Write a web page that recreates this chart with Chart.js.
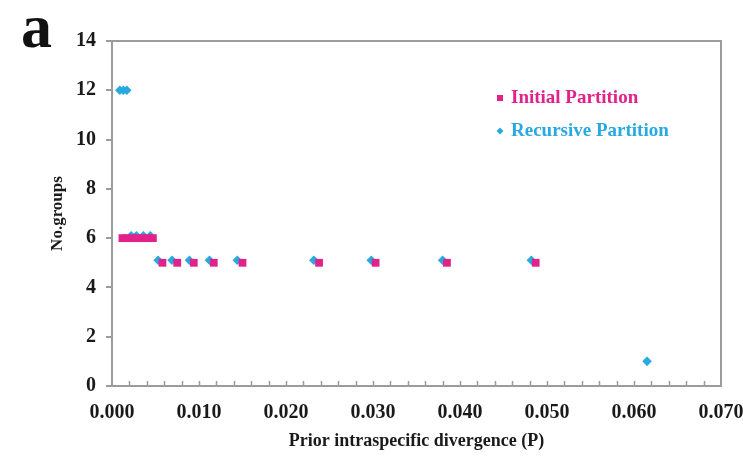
<!DOCTYPE html>
<html>
<head>
<meta charset="utf-8">
<script src="https://cdn.jsdelivr.net/npm/chart.js@4/dist/chart.umd.min.js"></script>
<style>
  html, body { margin: 0; padding: 0; background: #ffffff; }
  #wrap { width: 743px; height: 465px; }
</style>
</head>
<body>
<div id="wrap"><canvas id="c" width="743" height="465"></canvas></div>
<script>
// Number of groups found for each prior intraspecific divergence value
const initialP      = [0.0012, 0.0017, 0.0023, 0.0029, 0.0035, 0.0041, 0.0047,
                       0.0058, 0.0075, 0.0094, 0.0117, 0.0150, 0.0238, 0.0303, 0.0385, 0.0487];
const initialGroups = [6, 6, 6, 6, 6, 6, 6,
                       5, 5, 5, 5, 5, 5, 5, 5, 5];

const recursiveP      = [0.0009, 0.0013, 0.0017,
                         0.0022, 0.0028, 0.0036, 0.0044,
                         0.0053, 0.0069, 0.0089, 0.0112, 0.0144, 0.0232, 0.0298, 0.0380, 0.0482,
                         0.0615];
const recursiveGroups = [12, 12, 12,
                         6.1, 6.1, 6.1, 6.1,
                         5.1, 5.1, 5.1, 5.1, 5.1, 5.1, 5.1, 5.1, 5.1,
                         1];

const seriesNames = ['Initial Partition', 'Recursive Partition'];
const yTickValues = [0, 2, 4, 6, 8, 10, 12, 14];
const xTickValues = [0, 0.01, 0.02, 0.03, 0.04, 0.05, 0.06, 0.07];

const PINK = '#e2218b';
const BLUE = '#28a9e0';
const AXIS = '#9c9c9c';
const SERIF = '"Liberation Serif", "Times New Roman", serif';

const toPoints = (xs, ys) => xs.map((v, i) => ({ x: v, y: ys[i] }));

// Plot frame, inward minor ticks, in-plot legend and panel letter
const decorations = {
  id: 'decorations',
  beforeDatasetsDraw(chart) {
    const { ctx, chartArea: a, scales: { x } } = chart;
    ctx.save();
    ctx.strokeStyle = AXIS;
    ctx.lineWidth = 2;
    ctx.strokeRect(a.left, a.top, a.right - a.left, a.bottom - a.top);
    ctx.lineWidth = 1.5;
    for (let v = 0.002; v < 0.0699; v += 0.002) {
      const px = Math.round(x.getPixelForValue(v)) + 0.5;
      ctx.beginPath();
      ctx.moveTo(px, a.bottom);
      ctx.lineTo(px, a.bottom - 5);
      ctx.stroke();
    }
    ctx.restore();
  },
  afterDraw(chart) {
    const { ctx } = chart;
    ctx.save();
    // legend
    const rows = [{ y: 98 }, { y: 131 }];
    chart.data.datasets.forEach((ds, i) => {
      const y = rows[i].y;
      ctx.fillStyle = ds.backgroundColor;
      if (ds.pointStyle === 'rect') {
        ctx.fillRect(497, y - 3, 6, 6);
      } else {
        ctx.beginPath();
        ctx.moveTo(500, y - 3.5); ctx.lineTo(503.5, y); ctx.lineTo(500, y + 3.5); ctx.lineTo(496.5, y);
        ctx.closePath();
        ctx.fill();
      }
      ctx.font = 'bold 19px ' + SERIF;
      ctx.textBaseline = 'middle';
      ctx.textAlign = 'left';
      ctx.fillText(ds.label, 511, y);
    });
    // panel letter
    ctx.fillStyle = '#111111';
    ctx.font = 'bold 62px ' + SERIF;
    ctx.textBaseline = 'alphabetic';
    ctx.fillText('a', 21, 47);
    ctx.restore();
  }
};

new Chart(document.getElementById('c'), {
  type: 'scatter',
  data: {
    datasets: [
      {
        label: seriesNames[0],
        data: toPoints(initialP, initialGroups),
        pointStyle: 'rect',
        pointRadius: 5.5,
        pointBorderWidth: 0,
        backgroundColor: PINK,
        borderColor: PINK
      },
      {
        label: seriesNames[1],
        data: toPoints(recursiveP, recursiveGroups),
        pointStyle: 'rectRot',
        pointRadius: 4.8,
        pointBorderWidth: 0,
        backgroundColor: BLUE,
        borderColor: BLUE
      }
    ]
  },
  options: {
    responsive: false,
    animation: false,
    events: [],
    layout: { padding: { top: 41, right: 22, left: 0, bottom: 0 } },
    plugins: {
      legend: { display: false },
      tooltip: { enabled: false }
    },
    scales: {
      x: {
        type: 'linear',
        min: 0,
        max: 0.07,
        afterFit(s) { s.height = 79; s.paddingLeft = 0; s.paddingRight = 0; },
        afterBuildTicks(s) { s.ticks = xTickValues.map(v => ({ value: v })); },
        ticks: {
          autoSkip: false,
          maxRotation: 0,
          padding: 7,
          color: '#1a1a1a',
          font: { family: SERIF, size: 20, weight: 'bold' },
          callback: v => Number(v).toFixed(3)
        },
        grid: { display: false },
        border: { display: false },
        title: {
          display: true,
          text: 'Prior intraspecific divergence (P)',
          color: '#1a1a1a',
          font: { family: SERIF, size: 18, weight: 'bold' },
          padding: { top: 0, bottom: 13 }
        }
      },
      y: {
        type: 'linear',
        min: 0,
        max: 14,
        afterFit(s) { s.width = 112; s.paddingTop = 0; s.paddingBottom = 0; },
        afterBuildTicks(s) { s.ticks = yTickValues.map(v => ({ value: v })); },
        ticks: {
          padding: 10,
          color: '#1a1a1a',
          font: { family: SERIF, size: 20, weight: 'bold' }
        },
        grid: {
          drawOnChartArea: false,
          drawTicks: true,
          tickLength: 6,
          color: AXIS,
          lineWidth: 2
        },
        border: { display: false },
        title: {
          display: true,
          text: 'No.groups',
          color: '#1a1a1a',
          font: { family: SERIF, size: 17, weight: 'bold' },
          padding: { top: 47, bottom: 0 }
        }
      }
    }
  },
  plugins: [decorations]
});
</script>
</body>
</html>
